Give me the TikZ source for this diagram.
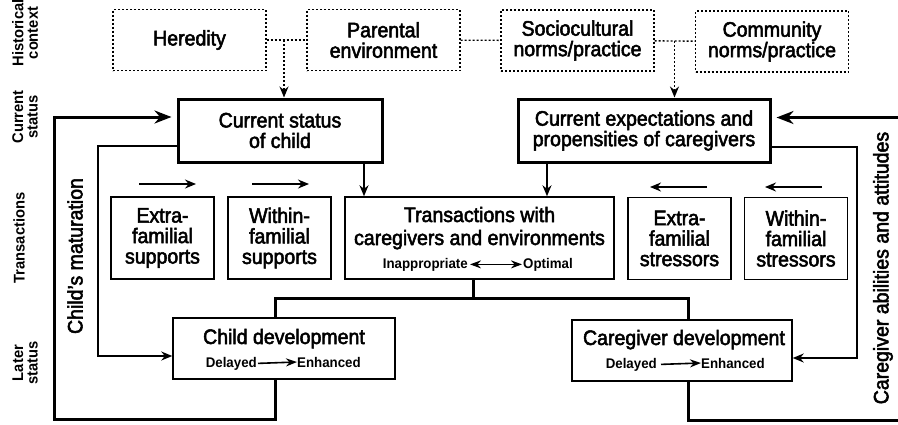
\documentclass[tikz,border=0pt]{standalone}
\usepackage{fontspec}
\setmainfont{Liberation Sans}[FakeStretch=0.93,FakeBold=2.5]
\newfontfamily\subfam{Liberation Sans}[FakeStretch=0.95]
\usetikzlibrary{arrows.meta}
\newcommand\fmain{\fontsize{21}{20.5}\selectfont}
\newcommand\fsub{\subfam\bfseries\fontsize{14}{14}\selectfont}
\newcommand\flab{\subfam\bfseries\fontsize{15.5}{14.5}\selectfont}
\begin{document}
\begin{tikzpicture}[x=1pt,y=-1pt,
  dotbox/.style={draw, line width=1.4pt, dash pattern=on 2pt off 2pt, minimum width=153pt, minimum height=61pt, inner sep=0pt, align=center, font=\fmain},
  thickbox/.style={draw, line width=3pt, minimum height=63pt, inner sep=0pt, align=center, font=\fmain},
  thinbox/.style={draw, line width=1.5pt, inner sep=0pt, align=center, font=\fmain},
  midbox/.style={thinbox, minimum width=103pt, minimum height=82pt},
  txt/.style={inner sep=0pt, font=\fmain},
  subtxt/.style={inner sep=0pt, font=\fsub},
  lab/.style={inner sep=0pt, align=center, rotate=90, font=\flab},
  side/.style={inner sep=0pt, rotate=90, font=\fmain},
  dotline/.style={line width=1.4pt, dash pattern=on 2pt off 2pt},
  heavy/.style={line width=3pt},
  light/.style={line width=1.5pt},
  subline/.style={line width=1.6pt},
  smalltip/.tip={Stealth[length=11pt,width=9pt]},
  bigtip/.tip={Stealth[length=17pt,width=13pt]},
  subtip/.tip={Stealth[length=11pt,width=8pt]}
]
\useasboundingbox (0,0) rectangle (898,424);

% historical context
\node[dotbox] (hered) at (189.5,40) {Heredity};
\node[dotbox] (parent) at (383.5,40) {Parental\\environment};
\node[dotbox] (socio) at (577.5,40.5) {Sociocultural\\norms/practice};
\node[dotbox] (comm) at (772,41.5) {Community\\norms/practice};
\draw[dotline] (hered) -- (parent);
\draw[dotline] (parent) -- (socio);
\draw[dotline] (socio) -- (comm);

% current status
\node[thickbox, minimum width=204pt] (cstat) at (280,130.5) {Current status\\of child};
\node[thickbox, minimum width=252pt] (expect) at (644,130.5) {Current expectations and\\propensities of caregivers};
\coordinate (j1) at (284,40);
\coordinate (j2) at (674.5,41);
\draw[dotline,-smalltip] (j1) -- (j1 |- cstat.north);
\draw[dotline,-smalltip] (j2) -- (j2 |- expect.north);

% transactions
\node[midbox] (exsup) at (162.5,238) {Extra-\\familial\\supports};
\node[midbox] (wisup) at (279.5,238) {Within-\\familial\\supports};
\node[thinbox, minimum width=269pt, minimum height=82pt] (trans) at (479.5,238) {};
\node[midbox] (exstr) at (679.5,238.5) {Extra-\\familial\\stressors};
\node[midbox] (wistr) at (796,238.5) {Within-\\familial\\stressors};
\node[txt, anchor=base] (tr1) at (479.5,222) {Transactions with};
\node[txt, anchor=base] (tr2) at (479.5,245) {caregivers and environments};
\node[subtxt, anchor=base east] (inap) at (468,268) {Inappropriate};
\node[subtxt, anchor=base west] (optim) at (523,268) {Optimal};
\draw[subline, subtip-subtip] ([xshift=2pt]inap.east) -- ([xshift=-1pt]optim.west);

\coordinate (a1s) at (139,184); \coordinate (a1e) at (196,184);
\coordinate (a2s) at (252,184); \coordinate (a2e) at (309,184);
\coordinate (a3s) at (707,187); \coordinate (a3e) at (650,187);
\coordinate (a4s) at (822,187); \coordinate (a4e) at (765,187);
\draw[light,-smalltip] (a1s) -- (a1e);
\draw[light,-smalltip] (a2s) -- (a2e);
\draw[light,-smalltip] (a3s) -- (a3e);
\draw[light,-smalltip] (a4s) -- (a4e);

\coordinate (x1) at (364,0);
\coordinate (x2) at (547,0);
\draw[light,-smalltip] (cstat.south -| x1) -- (trans.north -| x1);
\draw[light,-smalltip] (expect.south -| x2) -- (trans.north -| x2);

% later status
\node[thinbox, minimum width=222pt, minimum height=61pt] (cdev) at (284,348.5) {};
\node[txt, anchor=base] (cdevt) at (284,344) {Child development};
\node[subtxt, anchor=base east] (cdel) at (257,367) {Delayed};
\node[subtxt, anchor=base west] (cenh) at (297,367) {Enhanced};
\draw[subline,-subtip] ([xshift=1pt]cdel.east) -- (cenh.west);

\node[thinbox, minimum width=220pt, minimum height=61pt] (gdev) at (682,350.5) {};
\node[txt, anchor=base] (gdevt) at (684,345) {Caregiver development};
\node[subtxt, anchor=base east] (gdel) at (657,368) {Delayed};
\node[subtxt, anchor=base west] (genh) at (701,368) {Enhanced};
\draw[subline,-subtip] ([xshift=4pt]gdel.east) -- (genh.west);

% junction from transactions
\coordinate (jt) at (473,298);
\coordinate (ja) at (275,298);
\coordinate (jb) at (688,298);
\draw[heavy] (trans.south -| jt) -- (jt);
\draw[heavy] (cdev.north -| ja) -- (ja) -- (jb) -- (gdev.north -| jb);

% feedback loops
\coordinate (lb) at (54,419);
\draw[heavy,-bigtip, shorten >=5pt] (cdev.south -| ja) |- (lb) |- ([yshift=13.5pt]cstat.west);
\coordinate (rb) at (898,420);
\draw[heavy] (gdev.south -| jb) |- (rb);
\coordinate (rt) at (898,117.5);
\draw[heavy,-bigtip, shorten >=5pt] (rt) -- (rt -| expect.east);

\coordinate (lt) at (98,356);
\draw[light,-smalltip] ([yshift=-15.5pt]cstat.west) -| (lt) -- (lt -| cdev.west);
\coordinate (rtt) at (857,358);
\draw[light,-smalltip] ([yshift=-16.5pt]expect.east) -| (rtt) -- (rtt -| gdev.east);

% side labels
\node[side] (mat) at (75,256) {Child’s maturation};
\node[side] (abil) at (883,268) {Caregiver abilities and attitudes};

\node[lab] (lh) at (25,33) {Historical\\context};
\node[lab] (lc) at (25,117) {Current\\status};
\node[lab] (ltr) at (19,238) {Transactions};
\node[lab] (ll) at (25,363) {Later\\status};
\end{tikzpicture}
\end{document}
